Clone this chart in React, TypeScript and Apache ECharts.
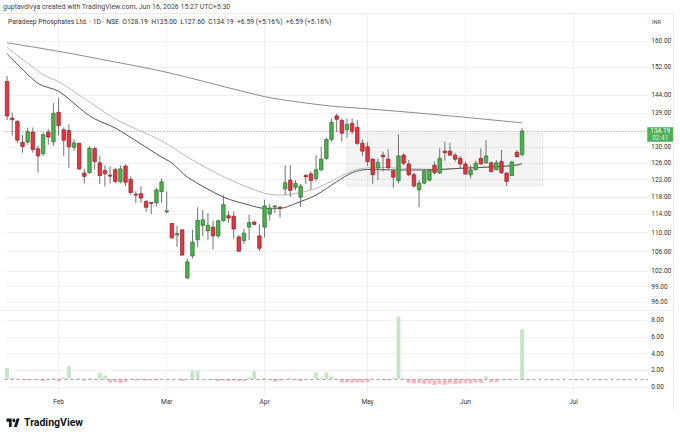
import React, { useEffect, useRef } from 'react';
import * as echarts from 'echarts';

// ---------- trading days (categories) ----------
const JAN = [16, 19, 20, 21, 22, 23, 27, 28, 29, 30];
const FEB = [1, 2, 3, 4, 5, 6, 9, 10, 11, 12, 13, 16, 17, 18, 19, 20, 23, 24, 25, 26, 27];
const MAR = [2, 4, 5, 6, 9, 10, 11, 12, 13, 16, 17, 18, 19, 23, 24, 25, 27, 30, 31];
const APR = [1, 2, 6, 7, 8, 9, 10, 13, 15, 16, 17, 20, 21, 22, 23, 24, 27, 28, 29, 30];
const MAY = [4, 5, 6, 7, 8, 11, 12, 13, 14, 15, 18, 19, 20, 21, 22, 25, 26, 27, 29];
const JUN = [1, 2, 3, 4, 5, 8, 9, 10, 11, 12, 15, 16, 17, 18, 19, 22, 23, 24, 25, 29, 30];
const JUL = [1, 2, 3, 6, 7, 8, 9, 10, 13, 14, 15, 16, 17, 20, 21];
const MONTH_NAMES = ['Jan', 'Feb', 'Mar', 'Apr', 'May', 'Jun', 'Jul'];

// ---------- OHLC ----------
const OPEN = [
  147.8, 137.6, 136.7, 131.3, 131.3, 133.9, 129.6, 128.4, 133.9, 131.4,
  139.2, 134.5, 134.3, 130.0, 131.0, 123.6, 123.7, 129.7, 126.1, 124.2,
  123.1, 124.4, 121.6, 125.3, 122.1, 118.6, 118.7, 116.9, 116.7, 116.6,
  119.2, 114.6, 112.0, 109.5, 110.6, 100.7, 105.1, 108.5, 111.6, 110.4,
  111.2, 109.3, 112.6, 113.7, 113.6, 109.1, 108.3, 111.2, 112.3, 109.3,
  111.2, 114.1, 115.7, 115.6, 119.8, 121.9, 120.2, 117.9, 123.0, 123.4,
  122.3, 124.4, 127.2, 132.0, 138.2, 137.0, 134.5, 136.2, 135.1, 131.0,
  130.1, 127.0, 124.8, 128.0, 127.0, 124.1, 121.8, 128.0, 125.8, 123.2,
  119.6, 121.2, 121.9, 125.5, 123.6, 129.0, 129.0, 128.0, 127.2, 125.8,
  123.2, 124.4, 127.2, 126.1, 126.1, 124.4, 126.4, 123.6, 123.0, 128.7, 128.19,
];
const HIGH = [
  149.4, 139.1, 137.1, 133.1, 135.1, 135.1, 130.3, 133.9, 134.7, 141.7,
  143.1, 135.1, 135.9, 132.0, 131.1, 124.6, 130.3, 130.0, 127.8, 125.5,
  125.2, 124.9, 125.5, 125.7, 122.8, 119.3, 120.4, 117.3, 116.8, 120.1,
  122.3, 119.2, 112.1, 111.5, 110.8, 104.6, 110.6, 115.6, 115.0, 114.3,
  112.6, 112.8, 118.4, 114.7, 114.7, 109.5, 110.8, 113.9, 112.6, 111.8,
  117.3, 116.4, 116.1, 115.9, 125.5, 125.5, 121.9, 121.0, 123.4, 124.0,
  128.0, 130.1, 132.5, 137.5, 138.8, 137.5, 137.5, 137.5, 137.1, 132.0,
  131.4, 127.2, 127.2, 128.9, 129.5, 124.6, 133.3, 128.5, 126.8, 123.7,
  121.9, 124.6, 124.6, 126.4, 129.7, 131.4, 131.1, 128.6, 127.8, 126.4,
  125.5, 126.6, 129.7, 131.8, 126.4, 126.8, 129.3, 123.7, 126.6, 129.3, 135.0,
];
const LOW = [
  137.1, 133.0, 131.0, 128.6, 130.6, 128.6, 123.7, 127.8, 130.6, 130.3,
  133.0, 127.8, 124.8, 129.1, 124.4, 121.1, 123.4, 124.4, 121.0, 120.4,
  121.1, 121.1, 121.1, 120.5, 118.5, 116.6, 116.6, 114.6, 114.1, 115.8,
  116.6, 114.2, 108.7, 107.0, 105.1, 100.5, 104.6, 107.0, 109.3, 108.4,
  106.5, 108.9, 112.4, 112.1, 108.7, 105.9, 107.6, 108.4, 111.6, 106.1,
  109.0, 112.6, 114.3, 113.3, 118.4, 118.0, 119.5, 115.7, 121.0, 119.6,
  121.6, 124.0, 126.8, 131.4, 133.9, 131.4, 132.5, 133.4, 130.6, 127.8,
  125.3, 121.0, 121.9, 124.0, 124.6, 120.1, 121.1, 125.5, 122.8, 120.1,
  115.6, 120.9, 121.6, 123.2, 123.4, 126.6, 127.8, 126.4, 124.6, 123.2,
  122.3, 124.3, 125.7, 125.8, 123.7, 124.3, 123.4, 120.5, 123.0, 127.6, 127.6,
];
const CLOSE = [
  138.2, 137.2, 131.8, 130.2, 134.0, 129.4, 127.8, 133.2, 132.6, 138.9,
  135.6, 131.8, 130.1, 131.1, 124.6, 122.8, 129.7, 126.4, 123.0, 123.4,
  122.9, 121.6, 124.6, 121.4, 119.0, 118.4, 117.7, 115.6, 116.6, 119.6,
  121.5, 114.8, 108.9, 109.8, 105.3, 103.9, 108.0, 112.7, 112.8, 111.6,
  109.3, 112.6, 116.2, 113.2, 110.8, 106.1, 109.9, 112.2, 111.8, 106.7,
  115.9, 115.4, 115.9, 115.4, 121.3, 119.5, 121.1, 120.5, 122.7, 121.8,
  124.4, 127.0, 132.0, 136.5, 137.3, 133.6, 135.9, 134.1, 131.0, 129.0,
  126.4, 123.2, 126.2, 127.6, 124.9, 122.6, 127.8, 126.0, 123.2, 120.5,
  121.2, 124.1, 124.4, 123.7, 127.2, 128.6, 128.0, 127.0, 125.8, 123.4,
  124.4, 126.0, 125.8, 127.8, 124.0, 126.1, 123.7, 121.6, 126.3, 127.6, 134.19,
];

// ---------- relative volume (histogram around 1) ----------
const REL_VOL = [
  2.3, 1.15, 0.97, 0.95, 0.8, 0.95, 0.9, 0.75, 0.85, 1.15,
  0.7, 1.2, 2.5, 0.95, 1.1, 0.8, 1.1, 0.95, 1.7, 1.4,
  0.55, 0.6, 0.5, 0.65, 1.05, 0.8, 0.85, 0.8, 0.85, 0.8,
  0.85, 0.95, 0.97, 0.98, 0.75, 0.95, 2.0, 2.0, 0.97, 0.98,
  0.9, 0.75, 0.8, 0.75, 0.8, 0.75, 0.75, 1.2, 1.9, 0.97,
  1.15, 0.9, 0.65, 0.8, 0.95, 1.15, 0.85, 0.75, 0.9, 0.97,
  1.8, 1.15, 1.75, 1.3, 0.95, 0.55, 0.55, 0.55, 0.55, 0.55,
  0.6, 0.95, 0.97, 0.9, 0.8, 1.1, 8.4, 1.1, 0.5, 0.45,
  0.5, 0.4, 0.45, 0.25, 0.4, 0.3, 0.45, 0.4, 0.45, 0.5,
  0.45, 0.55, 0.5, 1.3, 0.6, 0.6, 0.95, 0.9, 0.9, 0.95, 6.9,
];
const REL_VOL_BASE = 1;

// ---------- moving averages, read at sample bars [barIndex, value] ----------
const MA_LONG = [
  [0, 159.44], [10, 156.81], [21, 153.56], [31, 150.5], [50, 143.52], [56, 142.12],
  [63, 140.88], [69, 140.24], [82, 138.72], [100, 136.35],
];
const MA_MID = [
  [0, 157.98], [7, 149.86], [10, 147.76], [15, 142.99], [21, 137.39], [30, 131.63],
  [36, 126.79], [43, 122.16], [50, 118.8], [53, 118.4], [56, 118.76], [60, 119.92],
  [64, 122.33], [67, 124.14], [69, 124.7], [72, 124.99], [77, 124.75], [82, 124.51],
  [88, 124.75], [95, 125.15], [98, 125.33], [100, 125.82],
];
const MA_SHORT = [
  [0, 156.11], [6, 147.27], [10, 145.03], [15, 139.27], [17, 137.41], [21, 134.97],
  [26, 130.82], [30, 127.54], [32, 126.05], [35, 122.64], [42, 117.94], [47, 116.11],
  [50, 115.36], [53, 115.36], [56, 116.45], [60, 118.4], [64, 121.52], [67, 123.68],
  [70, 124.46], [76, 124.34], [82, 124.34], [88, 124.75], [95, 125.15], [99, 125.55],
  [100, 125.97],
];

// ---------- consolidation box ----------
const BOX_FROM = 66;
const BOX_TO = 104;
const BOX_TOP = 133.6;
const BOX_BOTTOM = 120.5;

// ---------- axis ticks ----------
const PRICE_TICKS = [96, 99, 102, 106, 110, 114, 118, 122, 126, 130, 139, 144, 152, 160];
const VOL_TICKS = [0, 2, 4, 6, 8];
const PRICE_MIN = 94.57;
const PRICE_MAX = 168.67;
const VOL_MIN = -0.68;
const VOL_MAX = 9.07;
const LAST_PRICE = 134.19;

const HEADER = 'guptavdivya created with TradingView.com, Jun 16, 2026 15:27 UTC+5:30';
const LEGEND =
  'Paradeep Phosphates Ltd. · 1D · NSE  O128.19  H135.00  L127.60  C134.19  +6.59 (+5.16%)  +6.59 (+5.16%)';

// ---------- derived ----------
const MONTH_DAYS: [number, number[]][] = [
  [1, JAN], [2, FEB], [3, MAR], [4, APR], [5, MAY], [6, JUN], [7, JUL],
];
const pad2 = (n: number) => (n < 10 ? '0' + n : '' + n);
const categories: string[] = [];
const monthStart = new Set<number>();
MONTH_DAYS.forEach(([m, days]) => {
  days.forEach((d, k) => {
    if (k === 0 && m > 1) monthStart.add(categories.length);
    categories.push(`2026-${pad2(m)}-${pad2(d)}`);
  });
});

const isMonthStart = (index: number) => monthStart.has(index);
const monthLabel = (value: string) => MONTH_NAMES[parseInt(value.slice(5, 7), 10) - 1];

const FONT = 'Roboto, "Liberation Sans", sans-serif';
const GRID_COLOR = '#f0f1f3';
const UP_FILL = '#4caf50';
const UP_BORDER = '#2c6e2f';
const DOWN_FILL = '#e5363f';
const DOWN_BORDER = '#8a1f25';
const WICK = '#737375';
const VOL_UP = '#c5e5c6';
const VOL_DOWN = '#f6b9c1';

echarts.graphic.registerShape(
  'tvlogo',
  echarts.graphic.extendPath('M14 22H7V11H0V4h14v18zM28 22h-8l7.5-18h8L28 22z', {})
);

const renderCandle = (params: any, api: any) => {
  const i = api.value(0);
  const o = api.value(1);
  const c = api.value(2);
  const l = api.value(3);
  const h = api.value(4);
  const up = c >= o;
  const pO = api.coord([i, o]);
  const pC = api.coord([i, c]);
  const pL = api.coord([i, l]);
  const pH = api.coord([i, h]);
  const band = api.coord([i + 1, o])[0] - pO[0];
  const w = band * 0.68;
  const top = Math.min(pO[1], pC[1]);
  const hgt = Math.max(Math.abs(pO[1] - pC[1]), 1);
  const x = pO[0];
  return {
    type: 'group',
    children: [
      {
        type: 'line',
        shape: { x1: x, y1: pH[1], x2: x, y2: pL[1] },
        style: { stroke: WICK, lineWidth: 1 },
      },
      {
        type: 'rect',
        shape: { x: x - w / 2, y: top, width: w, height: hgt },
        style: {
          fill: up ? UP_FILL : DOWN_FILL,
          stroke: up ? UP_BORDER : DOWN_BORDER,
          lineWidth: 0.7,
        },
      },
    ],
  };
};

const xAxisBase = (gridIndex: number, showLabels: boolean) => ({
  type: 'category',
  gridIndex,
  data: categories,
  boundaryGap: true,
  axisLine: { show: false },
  axisTick: { show: false },
  axisLabel: {
    show: showLabels,
    interval: isMonthStart,
    formatter: monthLabel,
    fontSize: 6.5,
    color: '#333',
    margin: 5,
    fontFamily: FONT,
  },
  splitLine: {
    show: true,
    interval: isMonthStart,
    alignWithLabel: true,
    lineStyle: { color: GRID_COLOR, width: 1 },
  },
});

const option: any = {
  animation: false,
  backgroundColor: '#ffffff',
  textStyle: { fontFamily: FONT },
  grid: [
    { left: 4.5, right: 31.75, top: 14, height: 296 },
    { left: 4.5, right: 31.75, top: 311, height: 82 },
  ],
  xAxis: [xAxisBase(0, false), xAxisBase(1, true)],
  yAxis: [
    {
      type: 'log',
      logBase: 10,
      gridIndex: 0,
      position: 'right',
      min: PRICE_MIN,
      max: PRICE_MAX,
      axisLine: { show: false },
      axisTick: { show: false, customValues: PRICE_TICKS },
      axisLabel: {
        customValues: PRICE_TICKS,
        formatter: (v: number) => Number(v).toFixed(2),
        fontSize: 6.5,
        color: '#333',
        margin: 3,
        fontFamily: FONT,
      },
      splitLine: { show: true, lineStyle: { color: GRID_COLOR, width: 1 } },
    },
    {
      type: 'value',
      gridIndex: 1,
      position: 'right',
      min: VOL_MIN,
      max: VOL_MAX,
      axisLine: { show: false },
      axisTick: { show: false, customValues: VOL_TICKS },
      axisLabel: {
        customValues: VOL_TICKS,
        formatter: (v: number) => Number(v).toFixed(2),
        fontSize: 6.5,
        color: '#333',
        margin: 3,
        fontFamily: FONT,
      },
      splitLine: { show: true, lineStyle: { color: GRID_COLOR, width: 1 } },
    },
  ],
  series: [
    {
      type: 'line',
      name: 'MA long',
      xAxisIndex: 0,
      yAxisIndex: 0,
      data: MA_LONG,
      showSymbol: false,
      smooth: 0.3,
      z: 2,
      lineStyle: { color: '#8a8a8a', width: 1 },
      silent: true,
    },
    {
      type: 'line',
      name: 'MA mid',
      xAxisIndex: 0,
      yAxisIndex: 0,
      data: MA_MID,
      showSymbol: false,
      smooth: 0.3,
      z: 2,
      lineStyle: { color: '#bababa', width: 1 },
      silent: true,
      markArea: {
        silent: true,
        itemStyle: { color: 'rgba(0,0,0,0.045)', borderColor: 'rgba(0,0,0,0.07)', borderWidth: 1 },
        data: [
          [
            { xAxis: categories[BOX_FROM], yAxis: BOX_TOP },
            { xAxis: categories[BOX_TO], yAxis: BOX_BOTTOM },
          ],
        ],
      },
    },
    {
      type: 'line',
      name: 'MA short',
      xAxisIndex: 0,
      yAxisIndex: 0,
      data: MA_SHORT,
      showSymbol: false,
      smooth: 0.3,
      z: 2,
      lineStyle: { color: '#555555', width: 1 },
      silent: true,
      markLine: {
        silent: true,
        symbol: ['none', 'none'],
        lineStyle: { type: [1, 2], color: '#9a9a9a', width: 1 },
        label: {
          show: true,
          position: 'end',
          distance: -1,
          formatter: '{e| }\n{a|' + LAST_PRICE.toFixed(2) + '}\n{b|02:41}',
          rich: {
            e: { lineHeight: 7, fontSize: 6.5 },
            a: {
              width: 20,
              align: 'center',
              backgroundColor: '#4caf50',
              color: '#ffffff',
              fontSize: 6.5,
              lineHeight: 7,
              padding: [0.5, 3, 0, 3],
              fontFamily: FONT,
            },
            b: {
              width: 20,
              align: 'center',
              backgroundColor: '#4caf50',
              color: 'rgba(255,255,255,0.85)',
              fontSize: 6.5,
              lineHeight: 7,
              padding: [0, 3, 0.5, 3],
              fontFamily: FONT,
            },
          },
        },
        data: [{ yAxis: LAST_PRICE }],
      },
    },
    {
      type: 'custom',
      name: 'Paradeep Phosphates',
      xAxisIndex: 0,
      yAxisIndex: 0,
      z: 5,
      data: CLOSE.map((c, i) => [i, OPEN[i], c, LOW[i], HIGH[i]]),
      encode: { x: 0, y: [1, 2, 3, 4] },
      renderItem: renderCandle,
      silent: true,
    },
    {
      type: 'bar',
      name: 'rv base',
      xAxisIndex: 1,
      yAxisIndex: 1,
      stack: 'rv',
      barWidth: '76%',
      data: REL_VOL.map((v) => Math.min(v, REL_VOL_BASE)),
      itemStyle: { color: 'rgba(0,0,0,0)' },
      silent: true,
    },
    {
      type: 'bar',
      name: 'rel vol',
      xAxisIndex: 1,
      yAxisIndex: 1,
      stack: 'rv',
      barWidth: '76%',
      data: REL_VOL.map((v) => Math.abs(v - REL_VOL_BASE)),
      itemStyle: {
        color: (p: any) => (REL_VOL[p.dataIndex] >= REL_VOL_BASE ? VOL_UP : VOL_DOWN),
      },
      silent: true,
      markLine: {
        silent: true,
        symbol: ['none', 'none'],
        label: { show: false },
        lineStyle: { type: [3, 3], color: '#a3a3a3', width: 1 },
        data: [{ yAxis: REL_VOL_BASE }],
      },
    },
  ],
  graphic: [
    {
      type: 'line',
      z: 50,
      shape: { x1: 0, y1: 13.5, x2: 673.5, y2: 13.5 },
      style: { stroke: '#ebebeb', lineWidth: 1 },
      silent: true,
    },
    {
      type: 'line',
      z: 50,
      shape: { x1: 673.5, y1: 13.5, x2: 673.5, y2: 410 },
      style: { stroke: '#ebebeb', lineWidth: 1 },
      silent: true,
    },
    {
      type: 'line',
      z: 50,
      shape: { x1: 0, y1: 310.5, x2: 673.5, y2: 310.5 },
      style: { stroke: '#eeeeee', lineWidth: 1 },
      silent: true,
    },
    {
      type: 'text',
      z: 100,
      left: 3,
      top: 3.5,
      style: { text: HEADER, fontSize: 7, fill: '#444', fontFamily: FONT },
    },
    {
      type: 'text',
      z: 100,
      left: 8,
      top: 18,
      style: { text: LEGEND, fontSize: 6.8, fill: '#333', fontFamily: FONT },
    },
    {
      type: 'text',
      z: 100,
      left: 652,
      top: 18.5,
      style: { text: 'INR', fontSize: 5.5, fill: '#444', fontFamily: FONT },
    },
    {
      type: 'group',
      z: 100,
      x: 6.5,
      y: 416.5,
      scaleX: 0.37,
      scaleY: 0.48,
      children: [
        { type: 'tvlogo', z: 100, style: { fill: '#131722' } },
        { type: 'circle', z: 100, shape: { cx: 20, cy: 8, r: 4 }, style: { fill: '#131722' } },
      ],
    },
    {
      type: 'text',
      z: 100,
      left: 24,
      top: 417,
      style: {
        text: 'TradingView',
        fontSize: 10.5,
        fontWeight: 'bold',
        fill: '#131722',
        fontFamily: FONT,
      },
    },
  ],
};

export default function App() {
  const ref = useRef<HTMLDivElement>(null);
  useEffect(() => {
    if (!ref.current) return;
    const chart = echarts.init(ref.current, undefined, { renderer: 'svg' });
    chart.setOption(option);
    return () => chart.dispose();
  }, []);
  return (
    <div
      ref={ref}
      style={{ position: 'fixed', left: 0, top: 0, width: 680, height: 436, background: '#fff' }}
    />
  );
}
